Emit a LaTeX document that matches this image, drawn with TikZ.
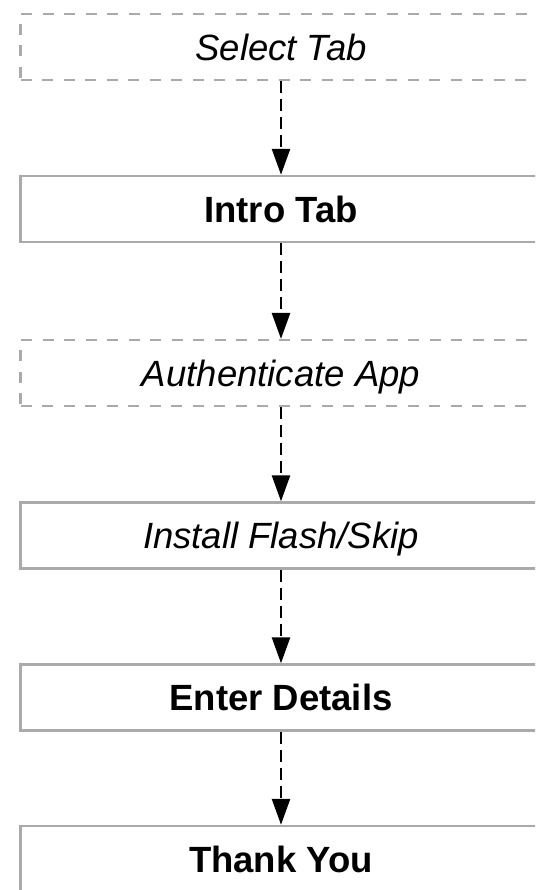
\documentclass[tikz,border=0pt]{standalone}
\usepackage{fontspec}
\setmainfont{Liberation Sans}
\usetikzlibrary{arrows.meta}
\definecolor{boxgray}{HTML}{AAAAAA}
\begin{document}
\begin{tikzpicture}[x=1pt,y=1pt,
  stepbox/.style={draw=boxgray, line width=2.4pt, minimum width=521pt, minimum height=66pt,
    inner sep=0pt, text depth=0pt, font=\fontsize{36.5}{44}\selectfont},
  optbox/.style={stepbox, line width=2.2pt, dash pattern=on 11pt off 10.5pt},
  flow/.style={draw=black, line width=2.6pt, dash pattern=on 12pt off 6pt,
    -{Triangle[length=26pt,width=18pt]}}]
\useasboundingbox (0,0) rectangle (535,-890);
\clip (0,0) rectangle (535,-890);
\node[optbox]  (sel)   at (281,-47)  {\itshape Select Tab};
\node[stepbox] (intro) at (281,-209) {\bfseries Intro Tab};
\node[optbox]  (auth)  at (281,-373) {\itshape Authenticate App};
\node[stepbox] (inst)  at (281,-535.5) {\itshape Install Flash/Skip};
\node[stepbox] (ent)   at (281,-697.5) {\bfseries Enter Details};
\node[stepbox] (thx)   at (281,-859) {\bfseries Thank You};
\draw[flow] (sel.south) -- (intro.north);
\draw[flow] (intro.south) -- (auth.north);
\draw[flow] (auth.south) -- (inst.north);
\draw[flow] (inst.south) -- (ent.north);
\draw[flow] (ent.south) -- (thx.north);
\end{tikzpicture}
\end{document}
